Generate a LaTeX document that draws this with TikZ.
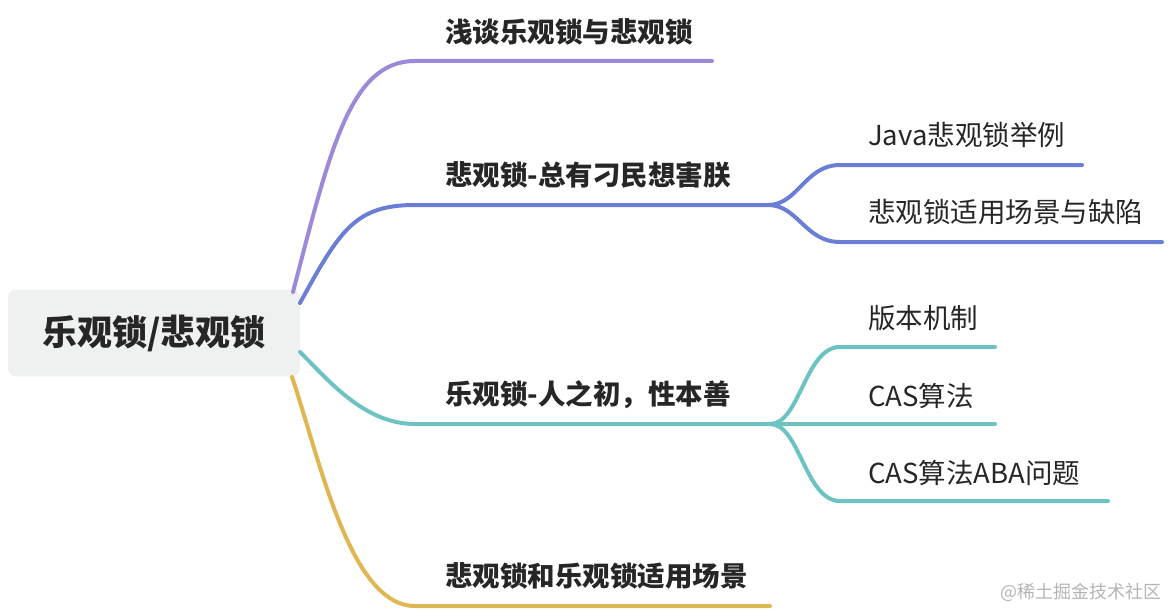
\documentclass[tikz,border=0pt]{standalone}
\usepackage{fontspec}
\setmainfont{Noto Sans CJK SC}
\usepackage{xcolor}
\usepackage{tikz}
\usetikzlibrary{positioning}
\definecolor{bPurple}{HTML}{9D89D9}
\definecolor{bBlue}{HTML}{6B7ED6}
\definecolor{bTeal}{HTML}{6CC3C2}
\definecolor{bGold}{HTML}{DFB752}
\definecolor{rootFill}{HTML}{EFF1F1}
\definecolor{nInk}{HTML}{262626}
\definecolor{wmGray}{HTML}{B4B4B4}
\tikzset{
  rootbox/.style={fill=rootFill, rounded corners=8pt, minimum width=292pt, minimum height=87pt,
    inner sep=0pt, font=\fontsize{35}{40}\selectfont\bfseries, text=nInk},
  topic/.style={anchor=west, inner sep=0pt, font=\fontsize{27.5}{32}\selectfont\bfseries, text=nInk},
  subtopic/.style={anchor=west, inner sep=0pt, font=\fontsize{27.5}{32}\selectfont, text=nInk},
  branch/.style={line width=4pt, line cap=round},
  watermark/.style={anchor=east, inner sep=0pt, font=\fontsize{18}{20}\selectfont, text=wmGray},
}

\begin{document}
\begin{tikzpicture}[x=1pt, y=-1pt]
  \useasboundingbox (0,0) rectangle (1168,610);
  % root
  \node[rootbox] (root) at (154,333) {乐观锁/悲观锁};
  \coordinate (r1) at (293,292);
  \coordinate (r2) at (300,303);
  \coordinate (r3) at (300,352);
  \coordinate (r4) at (292,377);
  % main topics
  \node[topic] (t1) at (445,32) {浅谈乐观锁与悲观锁};
  \node[topic] (t2) at (445,175) {悲观锁-总有刁民想害朕};
  \node[topic] (t3) at (445,395) {乐观锁-人之初，性本善};
  \node[topic] (t4) at (445,576) {悲观锁和乐观锁适用场景};
  % sub topics
  \node[subtopic] (s21) at (868,135) {Java悲观锁举例};
  \node[subtopic] (s22) at (868,212) {悲观锁适用场景与缺陷};
  \node[subtopic] (s31) at (868,318) {版本机制};
  \node[subtopic] (s32) at (868,396) {CAS算法};
  \node[subtopic] (s33) at (868,473) {CAS算法ABA问题};
  % underline points
  \coordinate (u1a) at (415,61);   \coordinate (u1b) at (712,61);
  \coordinate (u2a) at (415,205);  \coordinate (f2) at (768,205);
  \coordinate (u3a) at (415,424);  \coordinate (f3) at (770,424);
  \coordinate (u4a) at (415,606);  \coordinate (u4b) at (770,606);
  \coordinate (v21a) at (840,165); \coordinate (v21b) at (1082,165);
  \coordinate (v22a) at (840,242); \coordinate (v22b) at (1162,242);
  \coordinate (v31a) at (840,347); \coordinate (v31b) at (995,347);
  \coordinate (v32b) at (995,424);
  \coordinate (v33a) at (840,501); \coordinate (v33b) at (1108,501);
  % branches
  \draw[branch, bPurple] (r1) .. controls (330,150) and (350,61) .. (u1a) -- (u1b);
  \draw[branch, bBlue] (r2) .. controls (340,230) and (355,205) .. (u2a) -- (f2);
  \draw[branch, bBlue] (f2) .. controls (798,205) and (805,165) .. (v21a) -- (v21b);
  \draw[branch, bBlue] (f2) .. controls (798,205) and (805,242) .. (v22a) -- (v22b);
  \draw[branch, bTeal] (r3) .. controls (330,382) and (365,424) .. (u3a) -- (f3) -- (v32b);
  \draw[branch, bTeal] (f3) .. controls (800,424) and (805,347) .. (v31a) -- (v31b);
  \draw[branch, bTeal] (f3) .. controls (800,424) and (805,501) .. (v33a) -- (v33b);
  \draw[branch, bGold] (r4) .. controls (320,460) and (350,606) .. (u4a) -- (u4b);
  \node[watermark] (wm) at (1162,592) {@稀土掘金技术社区};
\end{tikzpicture}
\end{document}
